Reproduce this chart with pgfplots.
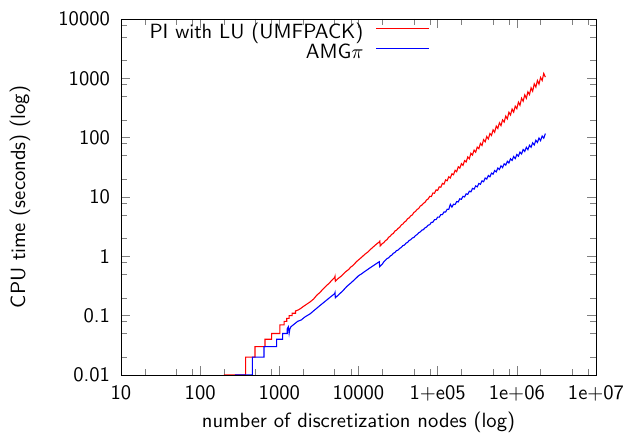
\documentclass[border=0pt]{standalone}
\usepackage{pgfplots}
\pgfplotsset{compat=1.18}
\renewcommand{\familydefault}{\sfdefault}
\begin{document}
\begin{tikzpicture}[font=\fontsize{10.3pt}{12.4pt}\selectfont]
\begin{loglogaxis}[name=ax, scale only axis, width=237.5pt, height=178pt,
 xmin=10, xmax=1e7, ymin=0.01, ymax=10000,
 xtick={10,100,1000,10000,100000,1000000,10000000},
 xticklabels={10,100,1000,10000,1+e05,1e+06,1e+07},
 ytick={0.01,0.1,1,10,100,1000,10000},
 yticklabels={0.01,0.1,1,10,100,1000,10000},
 minor xtick={20,50,80,200,500,800,2000,5000,8000,20000,50000,80000,200000,500000,800000,2000000,5000000,8000000},
 minor ytick={0.02,0.05,0.08,0.2,0.5,0.8,2,5,8,20,50,80,200,500,800,2000,5000,8000},
 xlabel={number of discretization nodes (log)},
 ylabel={CPU time (seconds) (log)},
 every axis x label/.style={at={(axis description cs:0.5,-0.132)}, anchor=center},
 every axis y label/.style={at={(axis description cs:-0.2126,0.5)}, rotate=90, anchor=center},
 xticklabel style={yshift=-1.5pt},
 yticklabel style={xshift=-2pt},
 legend style={draw=none, fill=none, inner sep=0pt, at={(axis description cs:0.6505,0.986)}, anchor=north east, nodes={inner sep=0pt, text height=7pt, text depth=3pt}, column sep=6pt, row sep=0pt},
 legend cell align=right, legend plot pos=right,
 legend image code/.code={\draw[#1] (0pt,0.3em) -- (26.5pt,0.3em);},
]
\addplot[red, line width=0.55pt] coordinates {
(200,0.01)(376,0.01)(376,0.02)(493,0.02)(493,0.03)(659,0.03)(659,0.04)(800,0.04)(800,0.05)(1018,0.05)(1018,0.07)(1150,0.07)(1150,0.08)(1240,0.08)(1240,0.09)(1330,0.09)(1330,0.10)(1450,0.10)(1450,0.11)(1600,0.11)(1600,0.12)(1740,0.125)(1900,0.135)(2000,0.142)(2200,0.155)(2440,0.17)(2700,0.19)(3000,0.224)(3250,0.245)(3500,0.274)(3750,0.30)(4000,0.327)(4250,0.35)(4500,0.382)(4750,0.41)(5000,0.44)(5050,0.46)(5100,0.38)(5500,0.42)(6000,0.46)(6500,0.51)(7000,0.56)(7500,0.60)(8000,0.66)(8500,0.70)(9000,0.76)(9500,0.82)(10000,0.87)(11000,0.97)(12000,1.08)(13000,1.17)(14000,1.29)(15000,1.40)(16000,1.51)(17000,1.62)(18000,1.72)(18600,1.80)(18800,1.50)(19400,1.56)
(19950,1.64)(20890,1.70)(21880,1.84)(22910,1.91)(23990,2.09)(25120,2.18)(26300,2.35)(27540,2.43)(28840,2.67)(30200,2.76)(31620,2.96)(33110,3.08)(34670,3.37)(36310,3.50)(38020,3.78)(39810,3.93)(41690,4.30)(43650,4.45)(45710,4.81)(47860,4.99)(50120,5.50)(52480,5.71)(54950,6.17)(57540,6.40)(60260,7.02)(63100,7.28)(66070,7.80)(69180,8.15)(72440,8.91)(75860,9.27)
(79430,10.26)(83180,10.17)(87100,11.69)(91200,11.55)(95500,13.19)(100000,12.90)(104700,14.83)(109600,14.59)(114800,16.96)(120200,16.44)(125900,19.41)(131800,18.75)(138000,21.93)(144500,20.94)(151400,24.61)(158500,23.71)(166000,28.19)(173800,26.68)(182000,32.33)(190500,30.52)(199500,36.48)(208900,34.09)(218800,41.07)(229100,38.94)(239900,47.30)(251200,44.07)(263000,54.61)(275400,50.92)(288400,61.76)(302000,56.97)(316200,69.45)(331100,65.09)(346700,80.06)(363100,73.82)(380200,92.54)(398100,85.19)(416900,104.6)(436500,95.19)(457100,117.4)(478600,108.8)(501200,135.5)(524800,123.3)(549500,156.8)(575400,142.9)(602600,177.9)(631000,159.8)(660700,199.5)(691800,183.1)(724400,231.0)(758600,207.5)(794300,268.2)(831800,240.8)(871000,303.3)(912000,269.5)(955000,339.6)(1000000,308.3)(1047000,395.5)(1096000,351.6)(1148000,461.6)(1202000,411.5)(1259000,525.5)(1318000,461.8)(1380000,591.8)(1445000,532.3)(1514000,691.3)(1585000,606.7)(1660000,808.1)(1738000,710.9)(1820000,919.0)(1905000,797.2)(1995000,1033)(2089000,918.8)(2188000,1209)(2291000,1047)
};
\addlegendentry{PI with LU (UMFPACK)}
\addplot[blue, line width=0.55pt] coordinates {
(275,0.01)(456,0.01)(456,0.02)(640,0.02)(640,0.03)(925,0.03)(925,0.04)(1100,0.04)(1100,0.05)(1260,0.05)(1260,0.06)(1300,0.065)(1330,0.05)(1360,0.06)(1400,0.065)(1500,0.07)(1700,0.08)(1900,0.085)(2100,0.095)(2440,0.107)(2800,0.125)(3200,0.145)(3700,0.17)(4300,0.20)(4800,0.225)(5000,0.235)(5050,0.245)(5100,0.20)(5600,0.225)(6300,0.26)(7100,0.31)(8000,0.355)(9000,0.41)(10000,0.47)(11000,0.51)(12000,0.555)(14000,0.64)(16000,0.72)(18000,0.80)(18300,0.81)(18500,0.67)(19200,0.70)
(19950,0.738)(20890,0.809)(21880,0.861)(22910,0.918)(23990,0.941)(25120,1.011)(26300,1.047)(27540,1.124)(28840,1.163)(30200,1.246)(31620,1.272)(33110,1.360)(34670,1.409)(36310,1.513)(38020,1.549)(39810,1.665)(41690,1.717)(43650,1.852)(45710,1.909)(47860,2.035)(50120,2.084)(52480,2.241)(54950,2.321)(57540,2.491)(60260,2.576)(63100,2.761)(66070,2.818)(69180,3.016)(72440,3.124)(75860,3.352)
(79430,3.412)(83180,3.736)(87100,3.763)(91200,4.149)(95500,4.168)(100000,4.584)(104700,4.566)(109600,5.049)(114800,5.050)(120200,5.592)(125900,5.569)(131800,6.216)(138000,6.173)(144500,7.527)(151400,6.753)(158500,7.553)(166000,7.474)(173800,8.372)(182000,8.244)(190500,9.314)(199500,9.146)(208900,10.28)(218800,9.991)(229100,11.30)(239900,11.06)(251200,12.53)(263000,12.21)(275400,13.95)(288400,13.56)(302000,15.39)(316200,14.79)(331100,16.90)(346700,16.39)(363100,18.74)(380200,18.07)(398100,20.88)(416900,20.09)(436500,23.04)(457100,21.88)(478600,25.29)(501200,24.26)(524800,27.88)(549500,26.48)(575400,30.76)(602600,29.13)(631000,33.56)(660700,31.33)(691800,36.38)(724400,34.38)(758600,39.92)(794300,37.51)(831800,44.07)(871000,41.30)(912000,48.07)(955000,44.36)(1000000,52.07)(1047000,48.70)(1096000,57.15)(1148000,53.12)(1202000,63.14)(1259000,58.56)(1318000,68.83)(1380000,62.81)(1445000,74.51)(1514000,68.99)(1585000,81.78)(1660000,75.29)(1738000,90.44)(1820000,83.04)(1905000,98.60)(1995000,88.92)(2089000,106.6)(2188000,97.77)(2291000,117.1)
};
\addlegendentry{AMG$\pi$}
\end{loglogaxis}
\pgfresetboundingbox
\path ([shift={(-60.5pt,-29pt)}]ax.south west) rectangle ([shift={(16pt,9.5pt)}]ax.north east);
\end{tikzpicture}
\end{document}
